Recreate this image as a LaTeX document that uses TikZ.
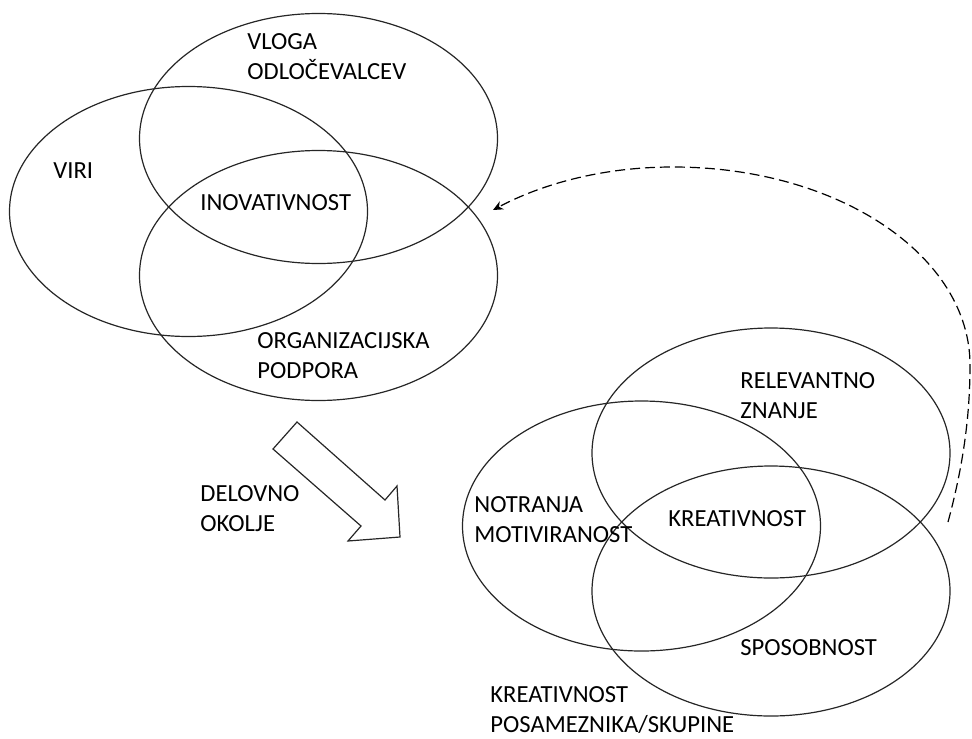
\documentclass[tikz,border=0pt]{standalone}
\usepackage{fontspec}
\setmainfont{Carlito}
\usetikzlibrary{shapes.geometric,arrows.meta}

\begin{document}
\begin{tikzpicture}[%
    x=0.5pt, y=-0.5pt,
    wording/.style={%
      anchor=base west,   % place by last baseline
      inner sep=0pt,      % no padding
      align=left,         % lines flush left
      font=\fontsize{12.3}{15}\selectfont
    },
    set/.style={%
      ellipse,            % elliptic node
      draw=black!85,      % dark outline
      line width=0.6pt,   %              and thin
      inner sep=0pt,
      minimum width=179pt,
      minimum height=125pt
    },
    feedback/.style={%
      -{Stealth[length=5pt,width=4.5pt]}, % small pointed head
      line width=0.6pt,
      dash pattern=on 5pt off 2.5pt      % dashed line
    },
    hollow/.style={%
      draw=black!85,      % outline only
      line width=0.6pt,
      line join=miter
    }
]
    \useasboundingbox (0,0) rectangle (972,738);

    % work environment sets
    \node at (318.5,138.5) [set] (vloga)   {};
    \node at (188.5,211.5) [set] (viri)    {};
    \node at (318.5,275.5) [set] (podpora) {};

    % individual creativity sets
    \node at (771,453)   [set] (znanje)  {};
    \node at (641.5,526) [set] (motiv)   {};
    \node at (771,591)   [set] (sposob)  {};

    % texts
    \node at (247,80)  [wording] (vloga text)   {VLOGA\\ODLOČEVALCEV};
    \node at (53,178)  [wording] (viri text)    {VIRI};
    \node at (200,210) [wording] (inov text)    {INOVATIVNOST};
    \node at (257,378) [wording] (podpora text) {ORGANIZACIJSKA\\PODPORA};
    \node at (200,531) [wording] (okolje text)  {DELOVNO\\OKOLJE};

    \node at (740,418) [wording] (znanje text)  {RELEVANTNO\\ZNANJE};
    \node at (474,542) [wording] (motiv text)   {NOTRANJA\\MOTIVIRANOST};
    \node at (668,526) [wording] (kreat text)   {KREATIVNOST};
    \node at (740,655) [wording] (sposob text)  {SPOSOBNOST};
    \node at (490,732) [wording] (skupina text) {KREATIVNOST\\POSAMEZNIKA/SKUPINE};

    % big hollow arrow
    \draw[hollow] (297,422) -- (385,500) -- (397,486) -- (400,537)
                  -- (348,541) -- (361,526) -- (273,449) -- cycle;

    % feedback
    \coordinate (fb start) at (948,522);
    \coordinate (fb end)   at (493,210);
    \draw[feedback]
    (fb start) .. controls (962,470) and (970,420) .. (970,365)
               .. controls (970,256) and (839,167) .. (673,167)
               .. controls (600,167) and (540,185) .. (fb end);

\end{tikzpicture}
\end{document}
